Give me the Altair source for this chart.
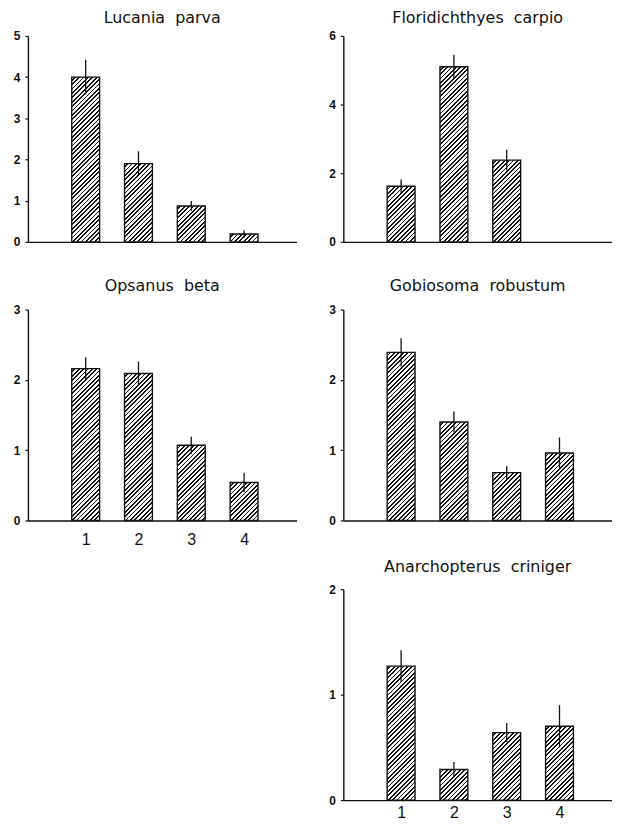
import altair as alt
import pandas as pd

# ---- data ----
groups = [1, 2, 3, 4]

lp_mean = [4.0, 1.9, 0.87, 0.19]
lp_err = [0.42, 0.30, 0.12, 0.09]

fc_mean = [1.62, 5.10, 2.38, None]
fc_err = [0.20, 0.35, 0.30, None]

ob_mean = [2.16, 2.09, 1.07, 0.54]
ob_err = [0.16, 0.17, 0.12, 0.14]

gr_mean = [2.39, 1.40, 0.68, 0.96]
gr_err = [0.20, 0.15, 0.09, 0.22]

ac_mean = [1.27, 0.29, 0.64, 0.70]
ac_err = [0.15, 0.07, 0.09, 0.20]

titles = ["Lucania parva", "Floridichthyes carpio", "Opsanus beta",
          "Gobiosoma robustum", "Anarchopterus criniger"]
y_max = [5, 6, 3, 3, 2]
y_ticks = [[0, 1, 2, 3, 4, 5], [0, 2, 4, 6], [0, 1, 2, 3], [0, 1, 2, 3], [0, 1, 2]]

W = 270
BAR_W = 28
INK = "#111111"


def hatch(w, h, period=4.4, frac=0.40):
    """Diagonal '/' hatching as a hard-stop linear gradient in bbox units."""
    total = w + h
    P = period / total
    stops = []
    k = 0
    while k * P < 1:
        a = round(k * P, 5)
        b = round(min(k * P + P * (1 - frac), 1), 5)
        c = round(min((k + 1) * P, 1), 5)
        stops += [{"offset": a, "color": "white"}, {"offset": b, "color": "white"},
                  {"offset": b, "color": INK}, {"offset": c, "color": INK}]
        k += 1
    s = (1 / h + 1 / w) / (1 / h ** 2 + 1 / w ** 2)
    return {"gradient": "linear", "x1": 0, "y1": 0,
            "x2": round(s / h, 5), "y2": round(s / w, 5), "stops": stops}


def panel(title, means, errs, ymax, ticks, H, toff, show_x, lpad, xext):
    df = pd.DataFrame({"group": groups, "mean": means, "err": errs})
    x_axis = alt.Axis(values=groups, title=None, grid=False, labels=show_x,
                      ticks=False, labelFontSize=16, labelPadding=lpad,
                      labelFont="Liberation Sans", labelColor=INK,
                      domainColor=INK, domainWidth=1.4, minExtent=xext)
    y_axis = alt.Axis(values=ticks, title=None, grid=False, tickSize=3, format=".0f",
                      labelFontSize=12, labelFontWeight="bold", labelPadding=5,
                      labelFont="Liberation Sans", labelColor=INK,
                      domainColor=INK, domainWidth=1.4, tickColor=INK, tickWidth=1.2)
    ysc = alt.Scale(domain=[0, ymax], nice=False)
    X = alt.X("group:Q", scale=alt.Scale(domain=[0, 4.9], nice=False, zero=False), axis=x_axis)
    Y = alt.Y("mean:Q", scale=ysc, axis=y_axis)
    base = alt.Chart(df).transform_filter("isValid(datum.mean)")
    layers = []
    for g, m in zip(groups, means):
        if m is None:
            continue
        h = m / ymax * H
        layers.append(
            base.transform_filter(alt.datum.group == g)
            .mark_bar(size=BAR_W, fill=hatch(BAR_W, h), stroke=INK, strokeWidth=1.4)
            .encode(x=X, y=Y)
        )
    rules = base.transform_calculate(
        lo="datum.mean - datum.err", hi="datum.mean + datum.err"
    ).mark_rule(color=INK, strokeWidth=1.3).encode(
        x=X, y=alt.Y("lo:Q", scale=ysc, axis=y_axis), y2="hi:Q")
    layers.append(rules)
    return alt.layer(*layers).properties(
        width=W, height=H,
        title=alt.TitleParams(title.replace(" ", "\u00a0\u00a0"), font="DejaVu Sans",
                              fontSize=16, fontWeight="normal", color=INK,
                              anchor="middle", offset=toff))


p1 = panel(titles[0], lp_mean, lp_err, y_max[0], y_ticks[0], 207, 4, False, 0, 30)
p2 = panel(titles[1], fc_mean, fc_err, y_max[1], y_ticks[1], 207, 4, False, 0, 30)
p3 = panel(titles[2], ob_mean, ob_err, y_max[2], y_ticks[2], 212, 10, True, 11, 33)
p4 = panel(titles[3], gr_mean, gr_err, y_max[3], y_ticks[3], 212, 10, False, 0, 33)
p5 = panel(titles[4], ac_mean, ac_err, y_max[4], y_ticks[4], 212, 8, True, 5, 0)

spacer = alt.Chart(pd.DataFrame({"a": [0]})).mark_point(opacity=0).encode(
    x=alt.X("a:Q", axis=None), y=alt.Y("a:Q", axis=None)
).properties(width=W, height=1)

row1 = alt.hconcat(p1, p2, spacing=32)
row2 = alt.hconcat(p3, p4, spacing=32)
row3 = alt.hconcat(spacer, p5, spacing=32)

chart = alt.vconcat(row1, row2, row3, spacing=6).properties(
    padding={"left": 5, "top": 0, "right": 0, "bottom": 0}
).configure(background="white").configure_view(stroke=None)

chart.save("out.html", embed_options={"renderer": "svg", "actions": False})
